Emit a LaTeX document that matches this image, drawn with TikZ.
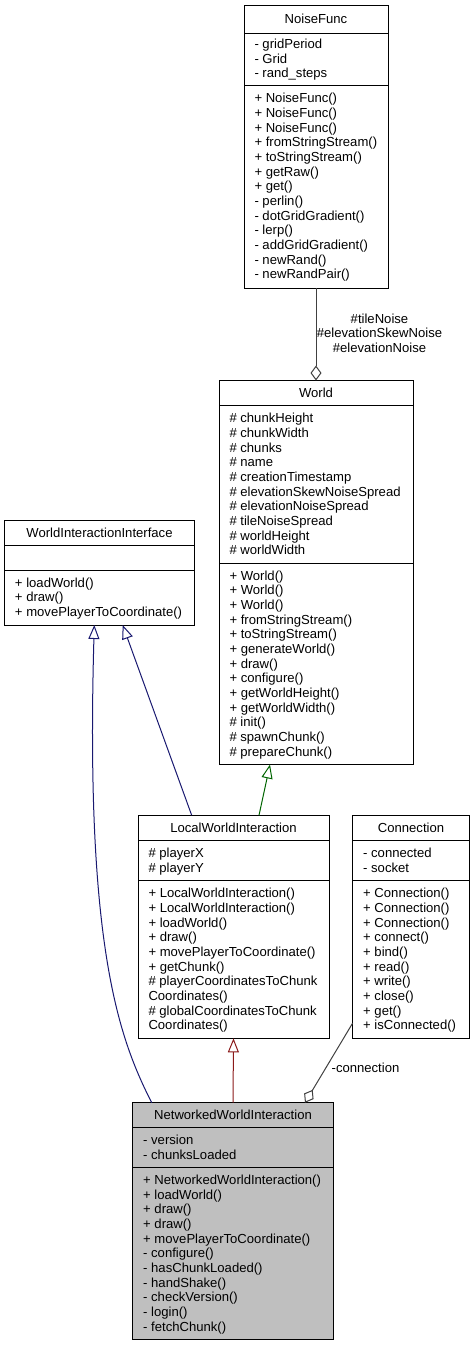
\documentclass[tikz,border=0pt]{standalone}
\usepackage{fontspec}
\setmainfont{Liberation Sans}
\usetikzlibrary{arrows.meta}
\definecolor{edgeblue}{HTML}{191970}
\definecolor{edgegreen}{HTML}{006400}
\definecolor{edgered}{HTML}{8B1A1A}
\definecolor{edgegray}{HTML}{404040}
\definecolor{nwifill}{HTML}{BFBFBF}
\newcommand\umlfont{\fontsize{13.1}{14.6}\selectfont}
% prefix, x, first row centre y, list of rows
\newcommand\umlrows[4]{%
  \foreach \t [count=\i] in {#4} {\node[row] (#1\i) at (#2, {#3+(\i-1)*14.67+4.4}) {\t};}}
\begin{document}
\begin{tikzpicture}[x=1pt,y=-1pt,line width=1pt,
  classbox/.style={draw=black, rectangle, inner sep=0pt, outer sep=0pt, anchor=north west},
  row/.style={anchor=base west, inner sep=0pt, font=\umlfont},
  title/.style={anchor=base, inner sep=0pt, font=\umlfont},
  lbl/.style={inner sep=0pt, font=\umlfont, align=center},
  inh/.style={-{Triangle[open,length=14pt,width=11pt]}},
  agg/.style={-{Diamond[open,length=15pt,width=11pt]}}]
\useasboundingbox (0,0) rectangle (473,1345);

% ---------------- NoiseFunc
\node[classbox, minimum width=144pt, minimum height=283pt] (noise) at (244,5) {};
\draw (244,33) -- (388,33);
\draw (244,85) -- (388,85);
\node[title] (noiseT) at (316,23.6) {NoiseFunc};
\umlrows{noiseA}{254}{44}{{- gridPeriod},{- Grid},{- rand\_steps}}
\umlrows{noiseM}{254}{98.5}{{+ NoiseFunc()},{+ NoiseFunc()},{+ NoiseFunc()},{+ fromStringStream()},{+ toStringStream()},{+ getRaw()},{+ get()},{- perlin()},{- dotGridGradient()},{- lerp()},{- addGridGradient()},{- newRand()},{- newRandPair()}}

% ---------------- World
\node[classbox, minimum width=194pt, minimum height=384pt] (world) at (219,380.5) {};
\draw (219,405.7) -- (413,405.7);
\draw (219,563) -- (413,563);
\node[title] (worldT) at (316,397.7) {World};
\umlrows{worldA}{229}{418.3}{{\# chunkHeight},{\# chunkWidth},{\# chunks},{\# name},{\# creationTimestamp},{\# elevationSkewNoiseSpread},{\# elevationNoiseSpread},{\# tileNoiseSpread},{\# worldHeight},{\# worldWidth}}
\umlrows{worldM}{229}{575.7}{{+ World()},{+ World()},{+ World()},{+ fromStringStream()},{+ toStringStream()},{+ generateWorld()},{+ draw()},{+ configure()},{+ getWorldHeight()},{+ getWorldWidth()},{\# init()},{\# spawnChunk()},{\# prepareChunk()}}

% ---------------- WorldInteractionInterface
\node[classbox, minimum width=189.6pt, minimum height=104.5pt] (wii) at (4.7,520.5) {};
\draw (4.7,545.7) -- (194.3,545.7);
\draw (4.7,570) -- (194.3,570);
\node[title] (wiiT) at (99.5,537.7) {WorldInteractionInterface};
\umlrows{wiiM}{14.5}{582.8}{{+ loadWorld()},{+ draw()},{+ movePlayerToCoordinate()}}

% ---------------- LocalWorldInteraction
\node[classbox, minimum width=191pt, minimum height=223pt] (lwi) at (138,815.3) {};
\draw (138,840.7) -- (329,840.7);
\draw (138,880.7) -- (329,880.7);
\node[title] (lwiT) at (233.5,832.6) {LocalWorldInteraction};
\umlrows{lwiA}{148}{853.4}{{\# playerX},{\# playerY}}
\umlrows{lwiM}{148}{893.5}{{+ LocalWorldInteraction()},{+ LocalWorldInteraction()},{+ loadWorld()},{+ draw()},{+ movePlayerToCoordinate()},{+ getChunk()},{\# playerCoordinatesToChunk},{Coordinates()},{\# globalCoordinatesToChunk},{Coordinates()}}

% ---------------- Connection
\node[classbox, minimum width=116.6pt, minimum height=223pt] (conn) at (352.7,815.3) {};
\draw (352.7,840.7) -- (469.3,840.7);
\draw (352.7,880.7) -- (469.3,880.7);
\node[title] (connT) at (411,832.6) {Connection};
\umlrows{connA}{362.7}{853.4}{{- connected},{- socket}}
\umlrows{connM}{362.7}{893.5}{{+ Connection()},{+ Connection()},{+ Connection()},{+ connect()},{+ bind()},{+ read()},{+ write()},{+ close()},{+ get()},{+ isConnected()}}

% ---------------- NetworkedWorldInteraction
\node[classbox, fill=nwifill, minimum width=200.6pt, minimum height=236.6pt] (nwi) at (132.7,1102.7) {};
\draw (132.7,1127.3) -- (333.3,1127.3);
\draw (132.7,1167.3) -- (333.3,1167.3);
\node[title] (nwiT) at (233,1119.6) {NetworkedWorldInteraction};
\umlrows{nwiA}{142.7}{1140}{{- version},{- chunksLoaded}}
\umlrows{nwiM}{142.7}{1180}{{+ NetworkedWorldInteraction()},{+ loadWorld()},{+ draw()},{+ draw()},{+ movePlayerToCoordinate()},{- configure()},{- hasChunkLoaded()},{- handShake()},{- checkVersion()},{- login()},{- fetchChunk()}}

% ---------------- connector end points
\coordinate (lwiG) at (259,815.3);
\coordinate (worldB) at (270,764.5);
\coordinate (lwiB) at (191.7,815.3);
\coordinate (wiiB) at (122.7,625);
\coordinate (nwiB) at (151.7,1102.7);
\coordinate (wiiA) at (94.3,625);
\coordinate (connP) at (352.7,1023);
\coordinate (nwiC) at (305,1102.7);

% ---------------- connectors
\draw[edgegray, agg] (noise.south) -- (world.north);
\node[lbl] (lblnoise) at (379.5,333) {\#tileNoise\\\#elevationSkewNoise\\\#elevationNoise};
\draw[edgegreen, inh] (lwiG) -- (worldB);
\draw[edgeblue, inh] (lwiB) -- (wiiB);
\draw[edgeblue, inh] (nwiB) .. controls (120,1040) and (85,950) .. (wiiA);
\draw[edgered, inh] (nwi.north) -- (lwi.south);
\draw[edgegray, agg] (connP) -- (nwiC);
\node[lbl] (lblconn) at (365.5,1068.3) {-connection};
\end{tikzpicture}
\end{document}
